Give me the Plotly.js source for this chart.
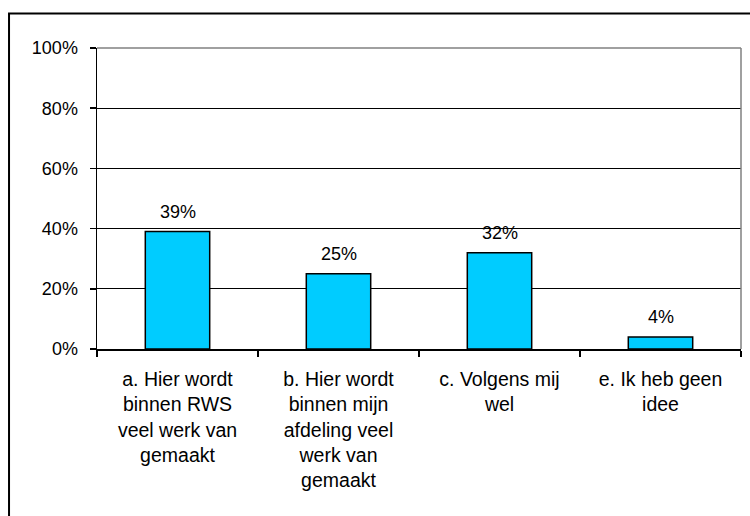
<!DOCTYPE html>
<html>
<head>
<meta charset="utf-8">
<script src="https://cdn.plot.ly/plotly-3.0.1.min.js"></script>
<style>html,body{margin:0;padding:0;background:#fff;}#chart{width:750px;height:516px;}</style>
</head>
<body>
<div id="chart"></div>
<script>
const categories = [
  "a. Hier wordt<br>binnen RWS<br>veel werk van<br>gemaakt",
  "b. Hier wordt<br>binnen mijn<br>afdeling veel<br>werk van<br>gemaakt",
  "c. Volgens mij<br>wel",
  "e. Ik heb geen<br>idee"
];
const values = [0.39, 0.25, 0.32, 0.04];
const labels = ["39%", "25%", "32%", "4%"];
const yTicks = [0, 0.2, 0.4, 0.6, 0.8, 1.0];
const yTickLabels = ["0%", "20%", "40%", "60%", "80%", "100%"];

const font = "Liberation Sans, Arial, sans-serif";

const trace = {
  type: "bar",
  x: categories,
  y: values,
  width: 0.4,
  marker: {color: "#00CCFF", line: {color: "#000000", width: 1.5}},
  hoverinfo: "none"
};

const annotations = categories.map((c, i) => ({
  x: c, y: values[i], xref: "x", yref: "y",
  text: labels[i], showarrow: false,
  yanchor: "bottom", yshift: 8,
  font: {family: font, size: 18, color: "#000"}
}));

const layout = {
  width: 750, height: 516,
  margin: {l: 97, r: 9, t: 48, b: 167},
  paper_bgcolor: "#fff", plot_bgcolor: "#fff",
  showlegend: false,
  font: {family: font, color: "#000"},
  xaxis: {
    type: "category",
    showline: true, linecolor: "#000", linewidth: 1.5,
    ticks: "outside", tickson: "boundaries", ticklen: 6, tickcolor: "#000", tickwidth: 1.5,
    ticklabelstandoff: 12,
    tickfont: {family: font, size: 19.5, color: "#000"},
    showgrid: false, fixedrange: true
  },
  yaxis: {
    range: [0, 1],
    tickvals: yTicks, ticktext: yTickLabels,
    showline: true, linecolor: "#000", linewidth: 1.5,
    ticks: "outside", ticklen: 6, tickcolor: "#000", tickwidth: 1.5,
    ticklabelstandoff: 8,
    tickfont: {family: font, size: 18, color: "#000"},
    showgrid: true, gridcolor: "#000", gridwidth: 1.2,
    zeroline: false, fixedrange: true
  },
  annotations: annotations,
  shapes: [
    {type: "line", xref: "paper", yref: "paper", x0: 0, x1: 1, y0: 1, y1: 1, line: {color: "#808080", width: 1.5}},
    {type: "line", xref: "paper", yref: "paper", x0: 1, x1: 1, y0: 0, y1: 1, line: {color: "#808080", width: 1.5}},
    {type: "rect", xref: "paper", yref: "paper", x0: -0.1366, x1: 1.05, y0: -0.7, y1: 1.1146, line: {color: "#000", width: 2}, fillcolor: "rgba(0,0,0,0)"}
  ]
};

Plotly.newPlot("chart", [trace], layout, {displayModeBar: false, staticPlot: true});
</script>
</body>
</html>
